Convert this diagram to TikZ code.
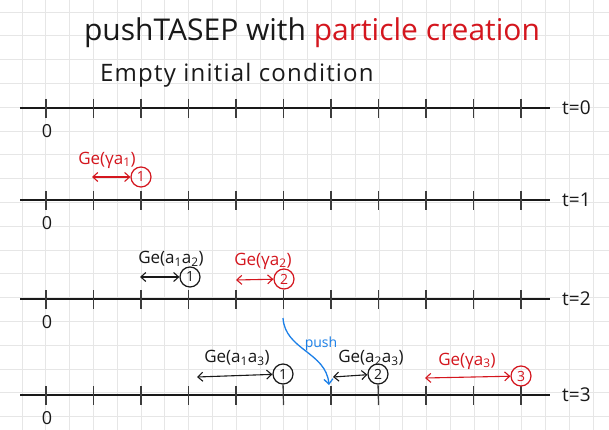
\documentclass[tikz,border=0pt]{standalone}
\usepackage{fontspec}
\setmainfont{Open Sans}
\usetikzlibrary{arrows.meta}
\definecolor{hred}{RGB}{212,22,30}
\definecolor{hblue}{RGB}{28,128,232}
\definecolor{gridc}{RGB}{230,230,230}
\definecolor{ink}{RGB}{25,25,25}
\tikzset{
  axisline/.style={draw=ink, line width=1.3pt},
  tickline/.style={draw=ink!85, line width=1.2pt},
  particle/.style={circle, draw=ink, text=ink, line width=1.2pt, minimum size=20pt, inner sep=0pt, font=\fontsize{14}{14}\selectfont},
  redparticle/.style={particle, draw=hred, text=hred},
  dist/.style={draw=ink, line width=1.1pt, {Straight Barb[length=5pt,width=9pt]}-{Straight Barb[length=5pt,width=9pt]}},
  reddist/.style={dist, draw=hred},
  lab/.style={inner sep=0pt, text=ink, font=\fontsize{17}{17}\selectfont},
  redlab/.style={lab, text=hred},
  zerolab/.style={inner sep=0pt, text=ink, font=\fontsize{18}{18}\selectfont},
  tlab/.style={inner sep=0pt, text=ink, anchor=west, font=\fontsize{19}{19}\selectfont},
}
\begin{document}
\begin{tikzpicture}[x=1pt,y=-1pt]
\useasboundingbox (0,0) rectangle (609,430);
\fill[white] (0,0) rectangle (609,430);
% grid paper
\foreach \k in {0,...,25} {\draw[gridc, line width=0.8pt] ({22+23.8*\k},0) -- ({22+23.8*\k},430);}
\foreach \k in {0,...,17} {\draw[gridc, line width=0.8pt] (0,{12+23.8*\k}) -- (609,{12+23.8*\k});}
% titles
\node[inner sep=0pt, text=ink, font=\fontsize{30}{30}\selectfont] (title) at (312,33) {pushTASEP with \textcolor{hred}{particle creation}};
\node[inner sep=0pt, text=ink, anchor=west, font=\fontsize{24}{24}\selectfont\addfontfeatures{LetterSpace=5}] (subtitle) at (100,75) {Empty initial condition};
% axes
\foreach \r/\y/\t in {0/108/0, 1/200/1, 2/299/2, 3/395/3} {
  \coordinate (ax\r s) at (20,\y);
  \coordinate (ax\r e) at (550,\y);
  \draw[axisline] (ax\r s) -- (ax\r e);
  \foreach \k in {0,...,10} {\draw[tickline] ({46+47.5*\k},\y-9) -- ({46+47.5*\k},\y+10);}
  \node[zerolab] (zero\r) at (47,\y+23) {0};
  \node[tlab] (tl\r) at (562,\y) {t=\t};
}
% t = 1
\node[redparticle] (p11) at (141,177) {1};
\coordinate (d11) at (92,177);
\draw[reddist] (d11) -- (p11);
\node[redlab] (g11) at (107,160) {Ge(γa\textsubscript{1})};
% t = 2
\node[particle] (p21) at (190,277) {1};
\coordinate (d21) at (140,277);
\draw[dist] (d21) -- (p21);
\node[lab] (g21) at (171,259) {Ge(a\textsubscript{1}a\textsubscript{2})};
\node[redparticle] (p22) at (284,279) {2};
\coordinate (d22) at (236,280);
\draw[reddist] (d22) -- (p22);
\node[redlab] (g22) at (263,261) {Ge(γa\textsubscript{2})};
% push
\coordinate (pushfrom) at (283,318);
\coordinate (pushto) at (329,385);
\draw[hblue, line width=1.3pt, -{Straight Barb[length=5pt,width=9pt]}] (pushfrom) .. controls (285,350) and (326,352) .. (pushto);
\node[inner sep=0pt, text=hblue, font=\fontsize{14}{14}\selectfont] (pushlab) at (321,344) {push};
% t = 3
\node[particle] (p31) at (283,374) {1};
\coordinate (d31) at (197,377);
\draw[dist] (d31) -- (p31);
\node[lab] (g31) at (237,358) {Ge(a\textsubscript{1}a\textsubscript{3})};
\node[particle] (p32) at (378,374) {2};
\coordinate (d32) at (333,377);
\draw[dist] (d32) -- (p32);
\node[lab] (g32) at (371,358) {Ge(a\textsubscript{2}a\textsubscript{3})};
\node[redparticle] (p33) at (521,376) {3};
\coordinate (d33) at (425,378);
\draw[reddist] (d33) -- (p33);
\node[redlab] (g33) at (467,361) {Ge(γa\textsubscript{3})};
\draw[tickline] (p31.south) -- (283.5,405);
\draw[tickline] (p32.south) -- (378.5,405);
\draw[tickline] (p33.south) -- (521,405);
\end{tikzpicture}
\end{document}
